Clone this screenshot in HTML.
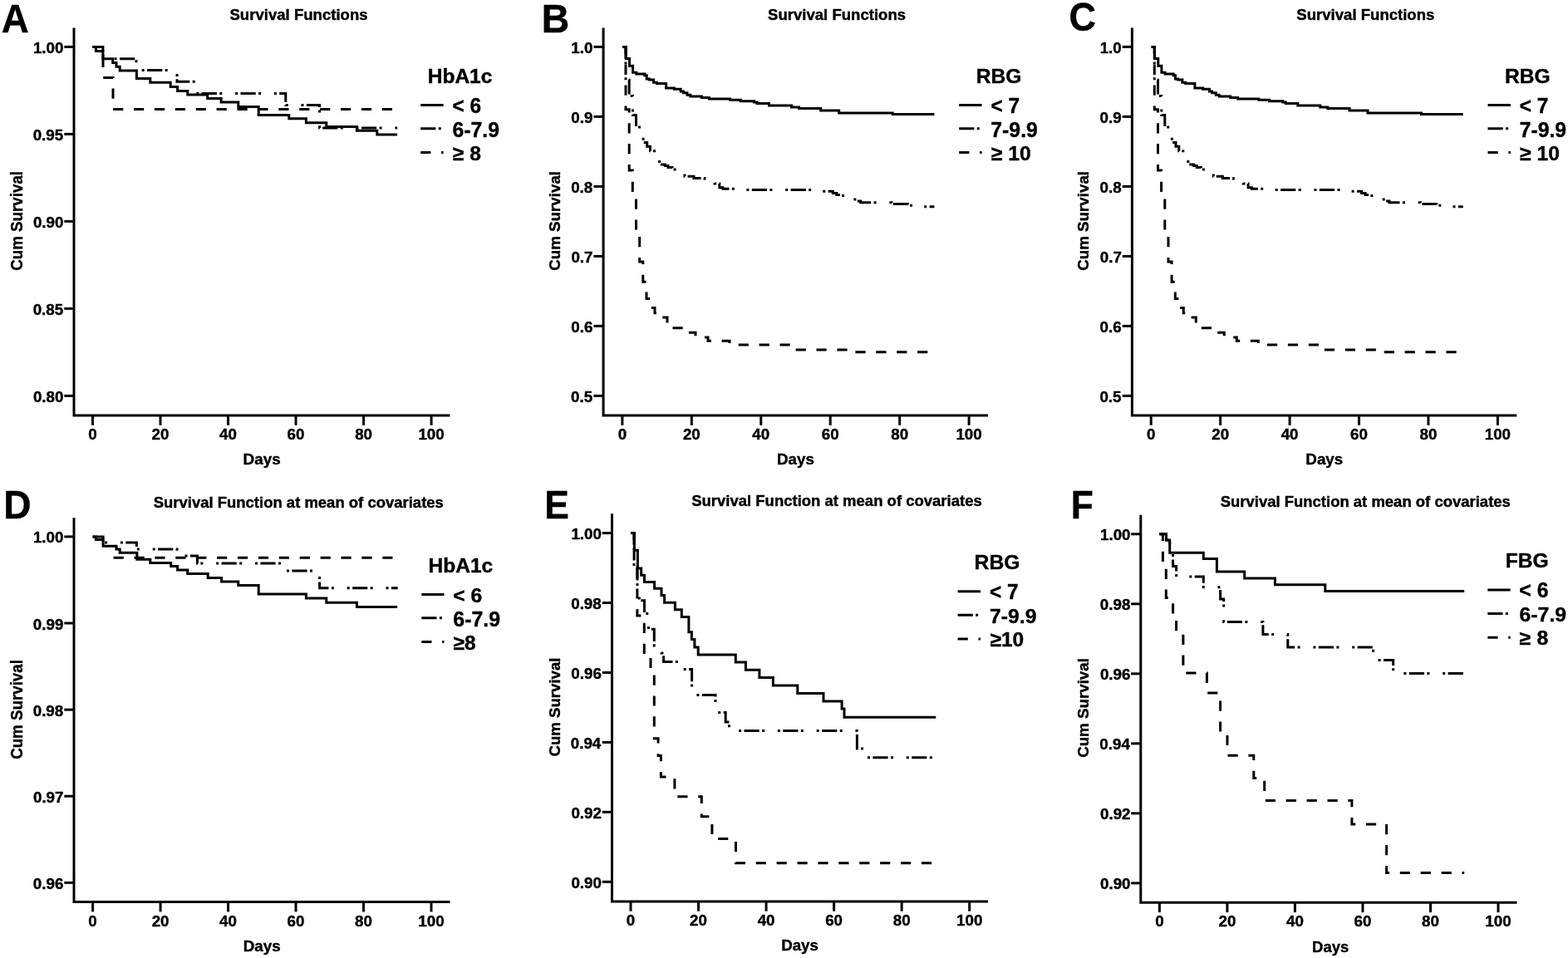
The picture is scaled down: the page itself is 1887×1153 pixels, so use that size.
<!DOCTYPE html>
<html><head><meta charset="utf-8"><title>Survival curves</title>
<style>
html,body{margin:0;padding:0;background:#fff;}
body{width:1887px;height:1153px;overflow:hidden;}
svg{display:block;}
text{font-family:"Liberation Sans", Arial, Helvetica, sans-serif;font-weight:bold;fill:#000;stroke:#000;stroke-width:0.4px;}
.t{font-size:18.8px;}
.ax{fill:none;stroke:#000;stroke-width:3;stroke-linecap:butt;stroke-linejoin:miter;}
.c{fill:none;stroke:#000;stroke-width:3;stroke-linecap:butt;stroke-linejoin:miter;}
.dd{stroke-dasharray:18.2 3.4 3 15.8 3 3.4;}
.da{stroke-dasharray:12.2 12.7;}
</style></head>
<body>
<svg width="1887" height="1153" viewBox="0 0 1887 1153">
<rect width="1887" height="1153" fill="#fff"/>
<path class="ax" d="M89 33.4V500H541.4"/>
<path class="ax" d="M77.3 56.4H89"/>
<path class="ax" d="M77.3 161.4H89"/>
<path class="ax" d="M77.3 266.4H89"/>
<path class="ax" d="M77.3 371.4H89"/>
<path class="ax" d="M77.3 476.4H89"/>
<path class="ax" d="M111.5 500V511.8"/>
<path class="ax" d="M193.02 500V511.8"/>
<path class="ax" d="M274.54 500V511.8"/>
<path class="ax" d="M356.06 500V511.8"/>
<path class="ax" d="M437.58 500V511.8"/>
<path class="ax" d="M519.1 500V511.8"/>
<path class="c da" d="M111.5 56.4H124V93.5H136V131.4H478.3"/>
<path class="c dd" d="M111.5 56.4H115.4V61.4H124V70.7H164V84.4H213V98.2H235V112.4H343.8V126.6H384.6V154.1H478.1"/>
<path class="c" d="M111.5 56.4H123.9V70.7H135.7V75.4H140V80.2H144.2V85H164.4V94.5H180.8V99.3H205.2V104.6H213.6V109.4H225.8V114.1H249.7V118.4H266.1V123.1H286.8V128.6H311.2V138.5H347.8V142.8H368.4V147.8H392.8V152.5H429.4V157.3H453.8V162.1H478.1"/>
<path class="c" d="M506.2 126.5H533.6"/>
<path class="c dd" d="M506.2 154.8H533.6"/>
<path class="c da" d="M506.2 183.6H533.6"/>
<text class="t" x="76.47" y="63.9" text-anchor="end">1.00</text>
<text class="t" x="76.22" y="168.9" text-anchor="end">0.95</text>
<text class="t" x="76.47" y="273.9" text-anchor="end">0.90</text>
<text class="t" x="76.22" y="378.9" text-anchor="end">0.85</text>
<text class="t" x="76.47" y="483.9" text-anchor="end">0.80</text>
<text class="t" x="111.5" y="528.9" text-anchor="middle">0</text>
<text class="t" x="193.02" y="528.9" text-anchor="middle">20</text>
<text class="t" x="274.54" y="528.9" text-anchor="middle">40</text>
<text class="t" x="356.06" y="528.9" text-anchor="middle">60</text>
<text class="t" x="437.58" y="528.9" text-anchor="middle">80</text>
<text class="t" x="519.1" y="528.9" text-anchor="middle">100</text>
<text x="514.66" y="100.08" font-size="23.01" textLength="77.76" lengthAdjust="spacingAndGlyphs">HbA1c</text>
<text x="544.38" y="135.85" font-size="25.14" textLength="34.61" lengthAdjust="spacingAndGlyphs">&lt; 6</text>
<text x="544.49" y="164.65" font-size="25.14" textLength="56.53" lengthAdjust="spacingAndGlyphs">6-7.9</text>
<text x="544.81" y="192.86" font-size="24.43" textLength="34.05" lengthAdjust="spacingAndGlyphs">≥ 8</text>
<path class="ax" d="M726.1 33.4V500H1189"/>
<path class="ax" d="M714.4 56.4H726.1"/>
<path class="ax" d="M714.4 140.4H726.1"/>
<path class="ax" d="M714.4 224.4H726.1"/>
<path class="ax" d="M714.4 308.4H726.1"/>
<path class="ax" d="M714.4 392.4H726.1"/>
<path class="ax" d="M714.4 476.4H726.1"/>
<path class="ax" d="M748.9 500V511.8"/>
<path class="ax" d="M832.34 500V511.8"/>
<path class="ax" d="M915.78 500V511.8"/>
<path class="ax" d="M999.22 500V511.8"/>
<path class="ax" d="M1082.66 500V511.8"/>
<path class="ax" d="M1166.1 500V511.8"/>
<path class="c da" d="M749.4 56.4H753V131.8H757.2V205H761.3V235H765.5V280H769.7V315H773.8V339.3H778V359.6H783.7V370.5H788V376.7H795V382H803V390.3H807V394.7H826V400.2H837V404.3H843V406H852V410.3H878V413.2H885V415.1H955V420.9H1026V423.8H1124.4"/>
<path class="c dd" d="M749.4 56.4H753V96.2H757.2V115.5H761.5V138.4H765.5V153H774.1V171.4H778.7V176.2H782.5V181.8H790V194.5H793.6V198H800.3V199.5H804V201.5H809V204H818V208.5H824V212.3H835V214.4H848V216.5H860V221H865.8V225.7H870V227.3H884V228.6H990V230.3H1002.3V232.6H1006.8V234.4H1011V235.5H1025V240H1031V242H1035.7V243.8H1073V245.6H1092.4V247.2H1110V248.8H1124.4"/>
<path class="c" d="M749.4 56.4H753.3V70.5H757.5V79.3H761.6V87.2H765.8V89H775.9V90.7H778.2V94.9H781.4V96H786.6V99.2H790.5V100.4H801.6V106H811.4V107.3H819.2V110H822.4V111.8H827V114.2H830.9V116H844.4V117.6H853.4V119H878.6V120.3H891.3V121.7H907.5V123H911V124.4H925.5V127.1H952.5V128.9H961.5V130.4H987.7V133.1H1009.7V136.1H1074.2V137.5H1124.4"/>
<path class="c" d="M1154.2 126.5H1181.6"/>
<path class="c dd" d="M1154.2 154.8H1181.6"/>
<path class="c da" d="M1154.2 183.6H1181.6"/>
<text class="t" x="713.47" y="63.9" text-anchor="end">1.0</text>
<text class="t" x="713.4" y="147.9" text-anchor="end">0.9</text>
<text class="t" x="713.28" y="231.9" text-anchor="end">0.8</text>
<text class="t" x="713.53" y="315.9" text-anchor="end">0.7</text>
<text class="t" x="713.38" y="399.9" text-anchor="end">0.6</text>
<text class="t" x="713.22" y="483.9" text-anchor="end">0.5</text>
<text class="t" x="748.9" y="528.9" text-anchor="middle">0</text>
<text class="t" x="832.34" y="528.9" text-anchor="middle">20</text>
<text class="t" x="915.78" y="528.9" text-anchor="middle">40</text>
<text class="t" x="999.22" y="528.9" text-anchor="middle">60</text>
<text class="t" x="1082.66" y="528.9" text-anchor="middle">80</text>
<text class="t" x="1166.1" y="528.9" text-anchor="middle">100</text>
<text x="1174.65" y="100.07" font-size="23.87" textLength="54.67" lengthAdjust="spacingAndGlyphs">RBG</text>
<text x="1192.38" y="136.1" font-size="25.87" textLength="34.6" lengthAdjust="spacingAndGlyphs">&lt; 7</text>
<text x="1192.34" y="164.65" font-size="25.14" textLength="56.48" lengthAdjust="spacingAndGlyphs">7-9.9</text>
<text x="1192.81" y="192.86" font-size="24.43" textLength="47.9" lengthAdjust="spacingAndGlyphs">≥ 10</text>
<path class="ax" d="M1362.4 33.4V500H1825.3"/>
<path class="ax" d="M1350.7 56.4H1362.4"/>
<path class="ax" d="M1350.7 140.4H1362.4"/>
<path class="ax" d="M1350.7 224.4H1362.4"/>
<path class="ax" d="M1350.7 308.4H1362.4"/>
<path class="ax" d="M1350.7 392.4H1362.4"/>
<path class="ax" d="M1350.7 476.4H1362.4"/>
<path class="ax" d="M1385.2 500V511.8"/>
<path class="ax" d="M1468.64 500V511.8"/>
<path class="ax" d="M1552.08 500V511.8"/>
<path class="ax" d="M1635.52 500V511.8"/>
<path class="ax" d="M1718.96 500V511.8"/>
<path class="ax" d="M1802.4 500V511.8"/>
<path class="c da" d="M1385.7 56.4H1389.3V131.8H1393.5V205H1397.6V235H1401.8V280H1406V315H1410.1V339.3H1414.3V359.6H1420V370.5H1424.3V376.7H1431.3V382H1439.3V390.3H1443.3V394.7H1462.3V400.2H1473.3V404.3H1479.3V406H1488.3V410.3H1514.3V413.2H1521.3V415.1H1591.3V420.9H1662.3V423.8H1760.7"/>
<path class="c dd" d="M1385.7 56.4H1389.3V96.2H1393.5V115.5H1397.8V138.4H1401.8V153H1410.4V171.4H1415V176.2H1418.8V181.8H1426.3V194.5H1429.9V198H1436.6V199.5H1440.3V201.5H1445.3V204H1454.3V208.5H1460.3V212.3H1471.3V214.4H1484.3V216.5H1496.3V221H1502.1V225.7H1506.3V227.3H1520.3V228.6H1626.3V230.3H1638.6V232.6H1643.1V234.4H1647.3V235.5H1661.3V240H1667.3V242H1672V243.8H1709.3V245.6H1728.7V247.2H1746.3V248.8H1760.7"/>
<path class="c" d="M1385.7 56.4H1389.6V70.5H1393.8V79.3H1397.9V87.2H1402.1V89H1412.2V90.7H1414.5V94.9H1417.7V96H1422.9V99.2H1426.8V100.4H1437.9V106H1447.7V107.3H1455.5V110H1458.7V111.8H1463.3V114.2H1467.2V116H1480.7V117.6H1489.7V119H1514.9V120.3H1527.6V121.7H1543.8V123H1547.3V124.4H1561.8V127.1H1588.8V128.9H1597.8V130.4H1624V133.1H1646V136.1H1710.5V137.5H1760.7"/>
<path class="c" d="M1790.5 126.5H1817.9"/>
<path class="c dd" d="M1790.5 154.8H1817.9"/>
<path class="c da" d="M1790.5 183.6H1817.9"/>
<text class="t" x="1349.77" y="63.9" text-anchor="end">1.0</text>
<text class="t" x="1349.7" y="147.9" text-anchor="end">0.9</text>
<text class="t" x="1349.58" y="231.9" text-anchor="end">0.8</text>
<text class="t" x="1349.83" y="315.9" text-anchor="end">0.7</text>
<text class="t" x="1349.68" y="399.9" text-anchor="end">0.6</text>
<text class="t" x="1349.52" y="483.9" text-anchor="end">0.5</text>
<text class="t" x="1385.2" y="528.9" text-anchor="middle">0</text>
<text class="t" x="1468.64" y="528.9" text-anchor="middle">20</text>
<text class="t" x="1552.08" y="528.9" text-anchor="middle">40</text>
<text class="t" x="1635.52" y="528.9" text-anchor="middle">60</text>
<text class="t" x="1718.96" y="528.9" text-anchor="middle">80</text>
<text class="t" x="1802.4" y="528.9" text-anchor="middle">100</text>
<text x="1810.95" y="100.07" font-size="23.87" textLength="54.67" lengthAdjust="spacingAndGlyphs">RBG</text>
<text x="1828.68" y="136.1" font-size="25.87" textLength="34.6" lengthAdjust="spacingAndGlyphs">&lt; 7</text>
<text x="1828.64" y="164.65" font-size="25.14" textLength="56.48" lengthAdjust="spacingAndGlyphs">7-9.9</text>
<text x="1829.11" y="192.86" font-size="24.43" textLength="47.9" lengthAdjust="spacingAndGlyphs">≥ 10</text>
<path class="ax" d="M89 623.3V1085.6H541.5"/>
<path class="ax" d="M77.3 645.9H89"/>
<path class="ax" d="M77.3 750.02H89"/>
<path class="ax" d="M77.3 854.14H89"/>
<path class="ax" d="M77.3 958.26H89"/>
<path class="ax" d="M77.3 1062.38H89"/>
<path class="ax" d="M111.6 1085.6V1097.4"/>
<path class="ax" d="M193.08 1085.6V1097.4"/>
<path class="ax" d="M274.56 1085.6V1097.4"/>
<path class="ax" d="M356.04 1085.6V1097.4"/>
<path class="ax" d="M437.52 1085.6V1097.4"/>
<path class="ax" d="M519 1085.6V1097.4"/>
<path class="c da" d="M124 671.2H478.3" stroke-dashoffset="12.3"/>
<path class="c dd" d="M111.6 645.9H115.4V649.5H124V653H164.4V661H213V669H237.5V678.1H343.8V686.9H384.6V707.8H478.7"/>
<path class="c" d="M111.6 645.9H124.1V657.3H140V661H144.2V665.2H164.9V673.2H180.8V677.4H205.7V681.6H213.6V685.9H225.8V690.6H250.2V695.4H266.6V699.9H286.8V704.6H311.2V714.9H368.4V720H392.8V725.3H429.4V730.6H478.1"/>
<path class="c" d="M507.3 715.5H534.5"/>
<path class="c dd" d="M507.3 743.8H534.5"/>
<path class="c da" d="M507.3 772.5H534.5"/>
<text class="t" x="76.47" y="653.4" text-anchor="end">1.00</text>
<text class="t" x="76.4" y="757.52" text-anchor="end">0.99</text>
<text class="t" x="76.28" y="861.64" text-anchor="end">0.98</text>
<text class="t" x="76.53" y="965.76" text-anchor="end">0.97</text>
<text class="t" x="76.38" y="1069.88" text-anchor="end">0.96</text>
<text class="t" x="111.6" y="1114.5" text-anchor="middle">0</text>
<text class="t" x="193.08" y="1114.5" text-anchor="middle">20</text>
<text class="t" x="274.56" y="1114.5" text-anchor="middle">40</text>
<text class="t" x="356.04" y="1114.5" text-anchor="middle">60</text>
<text class="t" x="437.52" y="1114.5" text-anchor="middle">80</text>
<text class="t" x="519" y="1114.5" text-anchor="middle">100</text>
<text x="515.56" y="689.27" font-size="23.56" textLength="77.66" lengthAdjust="spacingAndGlyphs">HbA1c</text>
<text x="545.16" y="724.76" font-size="24.29" textLength="35.03" lengthAdjust="spacingAndGlyphs">&lt; 6</text>
<text x="545.29" y="753.55" font-size="25.14" textLength="56.84" lengthAdjust="spacingAndGlyphs">6-7.9</text>
<text x="545.61" y="781.76" font-size="24.43" textLength="27.04" lengthAdjust="spacingAndGlyphs">≥8</text>
<path class="ax" d="M736.5 618.3V1084.9H1189"/>
<path class="ax" d="M724.8 641.6H736.5"/>
<path class="ax" d="M724.8 725.54H736.5"/>
<path class="ax" d="M724.8 809.48H736.5"/>
<path class="ax" d="M724.8 893.42H736.5"/>
<path class="ax" d="M724.8 977.36H736.5"/>
<path class="ax" d="M724.8 1061.3H736.5"/>
<path class="ax" d="M759 1084.9V1096.7"/>
<path class="ax" d="M840.54 1084.9V1096.7"/>
<path class="ax" d="M922.08 1084.9V1096.7"/>
<path class="ax" d="M1003.62 1084.9V1096.7"/>
<path class="ax" d="M1085.16 1084.9V1096.7"/>
<path class="ax" d="M1166.7 1084.9V1096.7"/>
<path class="c da" d="M759 641.6H763.1V681H766.9V741H775.3V789H783V807H787.3V888.8H792.1V909.4H795.4V935H811.9V958.8H844.3V982.7H856.9V1009.6H885.5V1038.7H1126.3"/>
<path class="c dd" d="M759 641.6H763V681H767V720H771.2V722.8H775.5V738.5H780.5V757.2H787.3V777H796V786H798.6V796.5H820V805.5H832.6V836.6H861V857.5H873.2V869H877.5V879.5H1031.4V901H1040V911.8H1126.3"/>
<path class="c" d="M759 641.6H763.4V662.2H767.4V684.1H771.7V692.3H775.5V700.4H787.6V708.2H796V716.6H799.6V725.2H812.4V733.8H820.3V742.5H828.9V760.7H832.4V769.4H835.9V778.9H840.2V787.9H885.3V797.1H897.4V806.2H913.9V815.4H930.4V824.9H959.8V834.4H991V844H1013.1V853.1H1016V863.2H1126.3"/>
<path class="c" d="M1152.6 711.8H1180"/>
<path class="c dd" d="M1152.6 740.3H1180"/>
<path class="c da" d="M1152.6 769H1180"/>
<text class="t" x="723.97" y="649.1" text-anchor="end">1.00</text>
<text class="t" x="723.78" y="733.04" text-anchor="end">0.98</text>
<text class="t" x="723.88" y="816.98" text-anchor="end">0.96</text>
<text class="t" x="723.3" y="900.92" text-anchor="end">0.94</text>
<text class="t" x="723.95" y="984.86" text-anchor="end">0.92</text>
<text class="t" x="723.97" y="1068.8" text-anchor="end">0.90</text>
<text class="t" x="759" y="1113.8" text-anchor="middle">0</text>
<text class="t" x="840.54" y="1113.8" text-anchor="middle">20</text>
<text class="t" x="922.08" y="1113.8" text-anchor="middle">40</text>
<text class="t" x="1003.62" y="1113.8" text-anchor="middle">60</text>
<text class="t" x="1085.16" y="1113.8" text-anchor="middle">80</text>
<text class="t" x="1166.7" y="1113.8" text-anchor="middle">100</text>
<text x="1172.55" y="685.36" font-size="24.29" textLength="54.88" lengthAdjust="spacingAndGlyphs">RBG</text>
<text x="1191.08" y="721.1" font-size="25" textLength="34.38" lengthAdjust="spacingAndGlyphs">&lt; 7</text>
<text x="1191.04" y="749.96" font-size="24.72" textLength="56.38" lengthAdjust="spacingAndGlyphs">7-9.9</text>
<text x="1191.51" y="778.36" font-size="24.29" textLength="40.69" lengthAdjust="spacingAndGlyphs">≥10</text>
<path class="ax" d="M1372.8 619.8V1086.3H1825.5"/>
<path class="ax" d="M1361.1 642.8H1372.8"/>
<path class="ax" d="M1361.1 726.82H1372.8"/>
<path class="ax" d="M1361.1 810.84H1372.8"/>
<path class="ax" d="M1361.1 894.86H1372.8"/>
<path class="ax" d="M1361.1 978.88H1372.8"/>
<path class="ax" d="M1361.1 1062.9H1372.8"/>
<path class="ax" d="M1395.4 1086.3V1098.1"/>
<path class="ax" d="M1476.92 1086.3V1098.1"/>
<path class="ax" d="M1558.44 1086.3V1098.1"/>
<path class="ax" d="M1639.96 1086.3V1098.1"/>
<path class="ax" d="M1721.48 1086.3V1098.1"/>
<path class="ax" d="M1803 1086.3V1098.1"/>
<path class="c da" d="M1395.4 642.8H1399.4V680H1403.3V719.4H1411.6V742H1415.6V761H1423.9V810.1H1452.4V834H1468.6V884H1477V909.3H1508.8V936.6H1521.7V963.6H1626.9V991.9H1668.6V1050.6H1762.2"/>
<path class="c dd" d="M1395.4 642.8H1403.5V650.1H1407.7V665.2H1411.6V681.5H1415.6V694.1H1448.3V706.8H1468.6V721H1472.7V748.6H1519.9V763.6H1549.8V779H1652.5V794.4H1676.7V810.4H1762.2"/>
<path class="c" d="M1395.4 642.8H1403.5V650.1H1407.7V665.2H1448.3V672.5H1464.4V688.1H1497.7V695.9H1534.4V703.7H1594.8V711.6H1762.2"/>
<path class="c" d="M1790.3 710H1817.7"/>
<path class="c dd" d="M1790.3 738.5H1817.7"/>
<path class="c da" d="M1790.3 767.2H1817.7"/>
<text class="t" x="1360.57" y="650.3" text-anchor="end">1.00</text>
<text class="t" x="1360.38" y="734.32" text-anchor="end">0.98</text>
<text class="t" x="1360.48" y="818.34" text-anchor="end">0.96</text>
<text class="t" x="1359.9" y="902.36" text-anchor="end">0.94</text>
<text class="t" x="1360.55" y="986.38" text-anchor="end">0.92</text>
<text class="t" x="1360.57" y="1070.4" text-anchor="end">0.90</text>
<text class="t" x="1395.4" y="1115.2" text-anchor="middle">0</text>
<text class="t" x="1476.92" y="1115.2" text-anchor="middle">20</text>
<text class="t" x="1558.44" y="1115.2" text-anchor="middle">40</text>
<text class="t" x="1639.96" y="1115.2" text-anchor="middle">60</text>
<text class="t" x="1721.48" y="1115.2" text-anchor="middle">80</text>
<text class="t" x="1803" y="1115.2" text-anchor="middle">100</text>
<text x="1811.75" y="683.46" font-size="24.58" textLength="51.97" lengthAdjust="spacingAndGlyphs">FBG</text>
<text x="1828.36" y="719.25" font-size="25.28" textLength="35.03" lengthAdjust="spacingAndGlyphs">&lt; 6</text>
<text x="1828.49" y="747.96" font-size="24.72" textLength="56.63" lengthAdjust="spacingAndGlyphs">6-7.9</text>
<text x="1828.8" y="776.17" font-size="23.59" textLength="34.46" lengthAdjust="spacingAndGlyphs">≥ 8</text>
<text x="1.86" y="38.8" font-size="48.4" textLength="33.05" lengthAdjust="spacingAndGlyphs">A</text>
<text x="651.7" y="38.6" font-size="48.26" textLength="33.51" lengthAdjust="spacingAndGlyphs">B</text>
<text x="1286.56" y="36.74" font-size="47.46" textLength="32.47" lengthAdjust="spacingAndGlyphs">C</text>
<text x="4.21" y="624.1" font-size="48.55" textLength="33.32" lengthAdjust="spacingAndGlyphs">D</text>
<text x="655.23" y="624.1" font-size="48.55" textLength="29.6" lengthAdjust="spacingAndGlyphs">E</text>
<text x="1288.63" y="624.1" font-size="48.11" textLength="27.09" lengthAdjust="spacingAndGlyphs">F</text>
<text x="276.46" y="24.02" font-size="18.38" textLength="166.2" lengthAdjust="spacingAndGlyphs">Survival Functions</text>
<text x="924.07" y="24.02" font-size="18.38" textLength="166" lengthAdjust="spacingAndGlyphs">Survival Functions</text>
<text x="1560.37" y="24.02" font-size="18.38" textLength="166" lengthAdjust="spacingAndGlyphs">Survival Functions</text>
<text x="184.67" y="611.42" font-size="18.11" textLength="349.19" lengthAdjust="spacingAndGlyphs">Survival Function at mean of covariates</text>
<text x="832.17" y="608.52" font-size="18.11" textLength="349.59" lengthAdjust="spacingAndGlyphs">Survival Function at mean of covariates</text>
<text x="1468.67" y="609.63" font-size="17.7" textLength="349.19" lengthAdjust="spacingAndGlyphs">Survival Function at mean of covariates</text>
<text transform="translate(26.7 325.77) rotate(-90)" font-size="20.35" textLength="119.8" lengthAdjust="spacingAndGlyphs">Cum Survival</text>
<text transform="translate(673.92 325.77) rotate(-90)" font-size="18.38" textLength="119.8" lengthAdjust="spacingAndGlyphs">Cum Survival</text>
<text transform="translate(1310.22 325.77) rotate(-90)" font-size="18.38" textLength="119.8" lengthAdjust="spacingAndGlyphs">Cum Survival</text>
<text transform="translate(26.7 913.87) rotate(-90)" font-size="20.35" textLength="119.8" lengthAdjust="spacingAndGlyphs">Cum Survival</text>
<text transform="translate(673.92 910.56) rotate(-90)" font-size="18.38" textLength="119.08" lengthAdjust="spacingAndGlyphs">Cum Survival</text>
<text transform="translate(1310.41 911.87) rotate(-90)" font-size="19.2" textLength="119.8" lengthAdjust="spacingAndGlyphs">Cum Survival</text>
<text x="292.64" y="558.61" font-size="18.76" textLength="45.14" lengthAdjust="spacingAndGlyphs">Days</text>
<text x="935.04" y="558.71" font-size="18.76" textLength="44.93" lengthAdjust="spacingAndGlyphs">Days</text>
<text x="1571.34" y="558.71" font-size="18.76" textLength="44.93" lengthAdjust="spacingAndGlyphs">Days</text>
<text x="292.74" y="1144.51" font-size="18.76" textLength="45.03" lengthAdjust="spacingAndGlyphs">Days</text>
<text x="940.15" y="1143.71" font-size="18.76" textLength="44.82" lengthAdjust="spacingAndGlyphs">Days</text>
<text x="1579.06" y="1145.61" font-size="18.76" textLength="44.3" lengthAdjust="spacingAndGlyphs">Days</text>
</svg>
</body></html>
